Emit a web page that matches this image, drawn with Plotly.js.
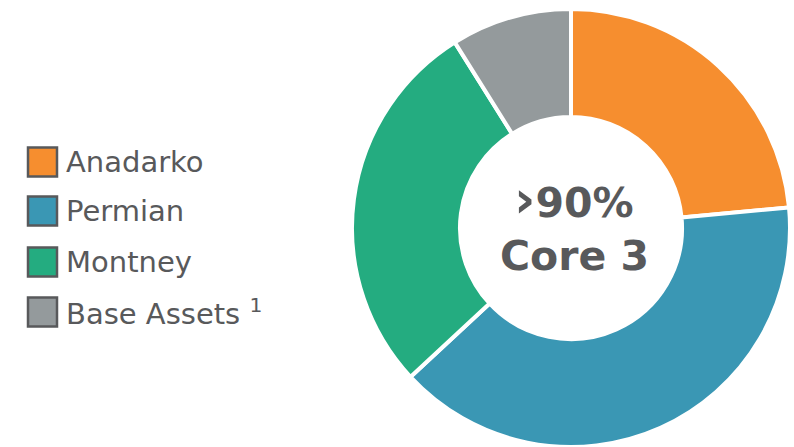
<!DOCTYPE html>
<html>
<head>
<meta charset="utf-8">
<script src="https://cdn.plot.ly/plotly-3.0.1.min.js"></script>
<style>
html,body{margin:0;padding:0;background:#fff;overflow:hidden;}
#chart{width:794px;height:447px;}
</style>
</head>
<body>
<div id="chart"></div>
<script>
const categories = ["Anadarko", "Permian", "Montney", "Base Assets"];
const legendLabels = ["Anadarko", "Permian", "Montney", "Base Assets <sup>1</sup>"];
const values = [23.5, 39.6, 28.0, 8.9];
const colors = ["#F68E2F", "#3A97B4", "#24AC80", "#949A9C"];
const centerLines = ["<span style=\"font-size:52px\">›</span>90%", "Core 3"];

const W = 794, H = 447;
const textColor = "#58595B";
const px = x => x / W;
const py = y => 1 - y / H;

const shapes = [];
const annotations = [];
const rowY = [162, 211, 262, 312];
categories.forEach((c, i) => {
  const cy = rowY[i];
  shapes.push({
    type: "rect", xref: "paper", yref: "paper",
    x0: px(28), x1: px(57), y0: py(cy + 14.5), y1: py(cy - 14.5),
    fillcolor: colors[i], line: {color: textColor, width: 2.5}
  });
  annotations.push({
    xref: "paper", yref: "paper", x: px(64), y: py(cy),
    xanchor: "left", yanchor: "middle", showarrow: false,
    text: legendLabels[i],
    font: {family: "DejaVu Sans", size: 29, color: textColor}
  });
});
annotations.push({
  xref: "paper", yref: "paper", x: px(574), y: py(199),
  xanchor: "center", yanchor: "middle", showarrow: false,
  text: "<b>" + centerLines[0] + "</b>",
  font: {family: "DejaVu Sans", size: 41, color: textColor}
});
annotations.push({
  xref: "paper", yref: "paper", x: px(574), y: py(256),
  xanchor: "center", yanchor: "middle", showarrow: false,
  text: "<b>" + centerLines[1] + "</b>",
  font: {family: "DejaVu Sans", size: 41, color: textColor}
});

const data = [{
  type: "pie",
  labels: categories,
  values: values,
  sort: false,
  direction: "clockwise",
  rotation: 0,
  hole: 0.507,
  textinfo: "none",
  hoverinfo: "label+percent",
  marker: {colors: colors, line: {color: "#ffffff", width: 4}},
  domain: {x: [px(352), px(790)], y: [0, py(9)]},
  showlegend: false
}];

const layout = {
  width: W, height: H,
  margin: {l: 0, r: 0, t: 0, b: 0},
  paper_bgcolor: "#ffffff",
  showlegend: false,
  shapes: shapes,
  annotations: annotations
};

Plotly.newPlot("chart", data, layout, {displayModeBar: false, staticPlot: true});
</script>
</body>
</html>
